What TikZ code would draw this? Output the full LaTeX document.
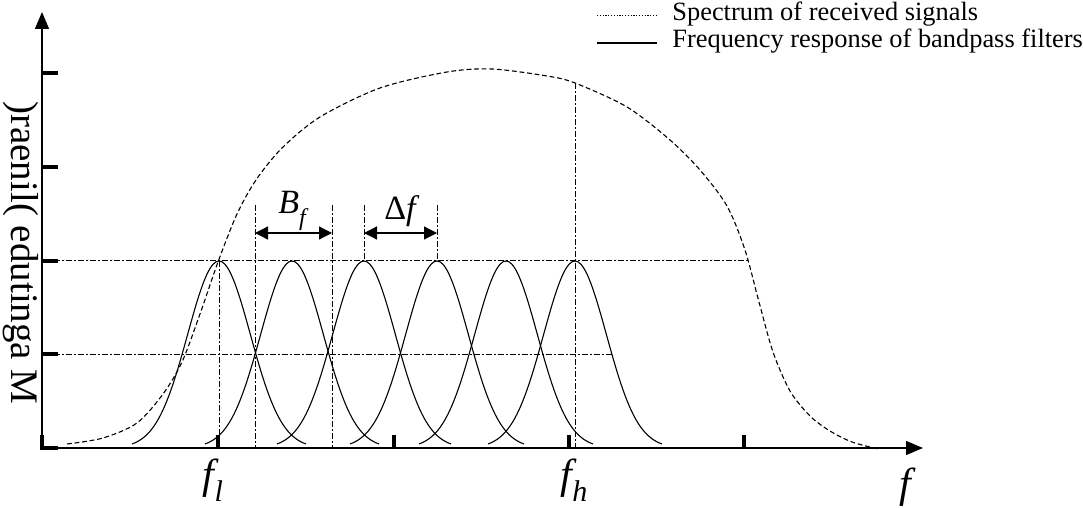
\documentclass[tikz,border=0pt]{standalone}
\usepackage{fontspec}
\setmainfont{Liberation Serif}
\usetikzlibrary{arrows.meta}
\begin{document}
\begin{tikzpicture}[x=0.5pt,y=-0.5pt,
  axis/.style={line width=0.7pt,-{Triangle[length=8.5pt,width=7pt]}},
  tickmark/.style={line width=1.6pt},
  guide/.style={line width=0.5pt,dash pattern=on 3pt off 1.2pt on 0.6pt off 1.2pt},
  spec/.style={line width=0.55pt,dash pattern=on 2.4pt off 1.4pt},
  legdot/.style={line width=0.5pt,dash pattern=on 0.6pt off 0.8pt},
  filt/.style={line width=0.55pt},
  dimarrow/.style={line width=0.6pt,{Triangle[length=6.5pt,width=6.5pt]}-{Triangle[length=6.5pt,width=6.5pt]}},
  legtext/.style={anchor=base west,inner sep=0pt,font=\fontsize{13.2}{15}\selectfont},
  flabel/.style={inner sep=0pt,font=\fontsize{21}{24}\selectfont\itshape},
  dlabel/.style={inner sep=0pt,font=\fontsize{17}{20}\selectfont},
]
\useasboundingbox (0,0) rectangle (1083,508);

% axes
\coordinate (O) at (42,448);
\coordinate (ytip) at (42,12);
\coordinate (xtip) at (923,448);
\draw[axis] (O) -- (ytip);
\draw[axis] (O) -- (xtip);

% y ticks
\foreach \yy/\nm in {73/ya,167/yb,261/yc,354/yd}{
  \coordinate (\nm) at (42,\yy);
  \draw[tickmark] (\nm) -- ++(16,0);
}
\draw[tickmark] (42,435) -- (O) -- (58,448);
% x ticks
\foreach \xx/\nm in {218/xa,394/xb,569/xc,744/xd}{
  \coordinate (\nm) at (\xx,448);
  \draw[tickmark] (\nm) -- ++(0,-13);
}

% guide lines
\coordinate (hpk) at (749,261);
\coordinate (hhf) at (612,354);
\draw[guide] (yc) -- (hpk);
\draw[guide] (yd) -- (hhf);
\coordinate (fltop) at (219,261);
\coordinate (flbot) at (219,448);
\draw[guide] (fltop) -- (flbot);
\coordinate (fhtop) at (575,83);
\coordinate (fhbot) at (575,448);
\draw[guide] (fhtop) -- (fhbot);
\coordinate (b1t) at (255,205); \coordinate (b1b) at (255,448);
\coordinate (b2t) at (332,205); \coordinate (b2b) at (332,448);
\draw[guide] (b1t) -- (b1b);
\draw[guide] (b2t) -- (b2b);
\coordinate (d1t) at (364,205); \coordinate (d1b) at (364,261);
\coordinate (d2t) at (437,205); \coordinate (d2b) at (437,261);
\draw[guide] (d1t) -- (d1b);
\draw[guide] (d2t) -- (d2b);

% dimension arrows
\coordinate (b1a) at (255,233); \coordinate (b2a) at (332,233);
\coordinate (d1a) at (364,233); \coordinate (d2a) at (437,233);
\draw[dimarrow] (b1a) -- (b2a);
\draw[dimarrow] (d1a) -- (d2a);
\node[dlabel] (Bf) at (292,211) {\itshape B\raisebox{-0.35em}{\fontsize{12}{14}\selectfont f}};
\node[dlabel] (Df) at (400,211) {Δ\itshape f};

% spectrum
\draw[spec] plot[smooth] coordinates {(67,444) (103,438) (137,423) (163,394) (182,362) (200,314) (218,262) (237,214) (256,180) (282,148) (320,117) (380,88) (447,72) (492,69) (547,76) (575,83) (627,107) (670,140) (700,170) (727,206) (745,250) (759,302) (773,352) (790,391) (810,416) (830,431) (852,442) (878,449)};

% filters
\foreach \c in {219,292,364,437,506,575}{
  \draw[filt] plot[domain=-87:87,samples=61,smooth] ({\c+\x},{448-187*exp(-(\x*\x)/1972)});
}

% labels
\node[flabel] (fl) at (213,480) {f\raisebox{-0.3em}{\fontsize{15}{17}\selectfont l}};
\node[flabel] (fh) at (574,480) {f\raisebox{-0.3em}{\fontsize{15}{17}\selectfont h}};
\node[flabel] (fx) at (905,487) {f};

\node[inner sep=0pt,rotate=-90,font=\fontsize{19.5}{22}\selectfont] (ylab) at (21,253) {)raenil( edutinga M};

% legend
\coordinate (l1a) at (597,16); \coordinate (l1b) at (657,16);
\coordinate (l2a) at (597,43); \coordinate (l2b) at (657,43);
\draw[legdot] (l1a) -- (l1b);
\draw[filt] (l2a) -- (l2b);
\node[legtext] (t1) at (672,21) {Spectrum of received signals};
\node[legtext] (t2) at (672,48) {Frequency response of bandpass filters};
\end{tikzpicture}
\end{document}
